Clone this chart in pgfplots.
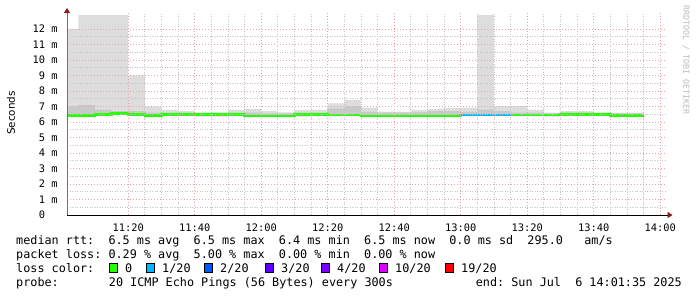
\documentclass[border=0pt]{standalone}
\usepackage{fontspec}
\setmainfont{DejaVu Sans}
\newfontfamily\monof{DejaVu Sans Mono}
\usepackage{pgfplots}
\pgfplotsset{compat=1.18}
\usepackage{pgfplotstable}
\usetikzlibrary{arrows.meta}

\definecolor{smokeA}{HTML}{DDDDDD}
\definecolor{smokeB}{HTML}{C9C9C9}
\definecolor{loss0}{HTML}{26FF00}
\definecolor{loss1}{HTML}{00B8FF}
\definecolor{loss2}{HTML}{0059FF}
\definecolor{loss3}{HTML}{5E00FF}
\definecolor{loss4}{HTML}{7E00FF}
\definecolor{loss10}{HTML}{DD00FF}
\definecolor{loss19}{HTML}{FF0000}
\definecolor{majgrid}{HTML}{EBA3A3}
\definecolor{mingrid}{HTML}{C4C4C4}
\definecolor{arrowred}{HTML}{8B1A1A}
\definecolor{yaxisgrey}{HTML}{707070}
\definecolor{credit}{HTML}{BBBBBB}

\newcommand\lf{\monof\fontsize{11.84}{14}\selectfont\frenchspacing}
\newcommand\tf{\monof\fontsize{10.4}{12}\selectfont\frenchspacing}

% minutes after 11:00 (step start), min, median, upper band, max  [ms]
\pgfplotstableread{
t    lo    med   q3    hi
1.6  6.35  6.42  7.00  12.00
5    6.35  6.42  7.10  12.90
10   6.42  6.50  6.80  12.90
15   6.45  6.56  6.70  12.90
20   6.40  6.50  6.70  9.00
25   6.35  6.42  6.60  7.00
30   6.40  6.48  6.60  6.77
35   6.40  6.48  6.60  6.70
40   6.34  6.50  6.58  6.62
45   6.34  6.50  6.58  6.62
50   6.42  6.50  6.60  6.77
55   6.35  6.40  6.60  6.84
60   6.35  6.40  6.55  6.70
65   6.35  6.40  6.55  6.62
70   6.34  6.48  6.60  6.77
75   6.40  6.48  6.60  6.77
80   6.40  6.45  6.88  7.20
85   6.40  6.45  7.00  7.42
90   6.35  6.40  6.65  6.92
95   6.35  6.40  6.60  6.67
100  6.35  6.40  6.60  6.67
105  6.35  6.40  6.62  6.77
110  6.35  6.40  6.70  6.84
115  6.35  6.40  6.70  6.90
120  6.40  6.45  6.65  6.92
125  6.40  6.45  6.80  12.90
130  6.40  6.45  6.70  7.03
135  6.40  6.45  6.60  7.03
140  6.40  6.45  6.60  6.77
145  6.34  6.45  6.55  6.60
150  6.42  6.50  6.62  6.70
155  6.42  6.50  6.62  6.70
160  6.42  6.50  6.58  6.62
165  6.38  6.43  6.55  6.60
170  6.38  6.43  6.55  6.60
175  6.38  6.43  6.55  6.60
}\smoke

\begin{document}
\begin{tikzpicture}[x=1bp,y=1bp]
\fill[white] (0,0) rectangle (697,297);
\begin{axis}[
  at={(67bp,82bp)}, anchor=south west,
  scale only axis, width=598.5bp, height=201.5bp,
  xmin=1.6, xmax=181.6, ymin=0, ymax=13,
  axis on top,
  axis x line=bottom, axis y line=left,
  x axis line style={black, line width=0.9bp, -{Triangle[length=5bp,width=6bp,color=arrowred]}, shorten >=-7bp},
  y axis line style={yaxisgrey, line width=0.9bp, -{Triangle[length=5bp,width=6bp,color=arrowred]}, shorten >=-5.5bp},
  xtick={20,40,...,180},
  xticklabels={11:20,11:40,12:00,12:20,12:40,13:00,13:20,13:40,14:00},
  minor x tick num=3,
  ytick={0,1,...,12},
  yticklabels={0\hphantom{\ m},1 m,2 m,3 m,4 m,5 m,6 m,7 m,8 m,9 m,10 m,11 m,12 m},
  minor y tick num=1,
  grid=both,
  major grid style={majgrid, line width=0.8bp, dash pattern=on 1.3bp off 1.7bp},
  minor grid style={mingrid, line width=0.8bp, dash pattern=on 1bp off 1.5bp},
  tick style={draw=none},
  xticklabel style={font=\tf, anchor=north, inner sep=0pt, yshift=-6bp},
  yticklabel style={font=\tf, anchor=east, inner sep=0pt, xshift=-7bp},
]
\addplot[const plot, draw=none, fill=smokeA] table[x=t,y=hi]{\smoke} \closedcycle;
\addplot[const plot, draw=none, fill=smokeB] table[x=t,y=q3]{\smoke} \closedcycle;
\addplot[const plot, draw=none, fill=smokeA] table[x=t,y=med]{\smoke} \closedcycle;
\addplot[const plot, draw=none, fill=white] table[x=t,y=lo]{\smoke} \closedcycle;
\addplot[const plot, draw=loss0, line width=2.6bp] table[x=t,y=med]{\smoke};
\addplot[const plot, draw=loss1, line width=2.6bp] coordinates {(120,6.45) (125,6.45) (130,6.45) (135,6.45)};
\end{axis}

% axis title and credit
\node[rotate=90, font=\fontsize{10.4}{12}\selectfont, inner sep=0pt] at (11bp,184bp) {Seconds};
\node[rotate=-90, anchor=west, inner sep=0pt, font=\monof\fontsize{8.3}{10}\selectfont, text=credit] at (686bp,292bp) {RRDTOOL / TOBI OETIKER};

% legend lines
\node[anchor=base west, inner sep=0pt, font=\lf] at (16bp,53bp)
  {median rtt:\ \ 6.5 ms avg\ \ 6.5 ms max\ \ 6.4 ms min\ \ 6.5 ms now\ \ 0.0 ms sd\ \ 295.0\ \ \ am/s};
\node[anchor=base west, inner sep=0pt, font=\lf] at (16bp,39bp)
  {packet loss:\ 0.29 \% avg\ \ 5.00 \% max\ \ 0.00 \% min\ \ 0.00 \% now};
\node[anchor=base west, inner sep=0pt, font=\lf] at (16bp,25bp) {loss color:};
\foreach \xb/\col/\txt in {109/loss0/{0}, 146/loss1/{1/20}, 204/loss2/{2/20}, 265/loss3/{3/20}, 321/loss4/{4/20}, 379/loss10/{10/20}, 445/loss19/{19/20}}{
  \draw[black, line width=1bp, fill=\col] (\xb bp+0.5bp,24.5bp) rectangle (\xb bp+8.5bp,33.5bp);
  \node[anchor=base west, inner sep=0pt, font=\lf] at (\xb bp+16bp,25bp) {\txt};
}
\node[anchor=base west, inner sep=0pt, font=\lf] at (16bp,11bp) {probe:};
\node[anchor=base west, inner sep=0pt, font=\lf] at (108.7bp,11bp) {20 ICMP Echo Pings (56 Bytes) every 300s};
\node[anchor=base east, inner sep=0pt, font=\lf] at (682bp,11bp) {end: Sun Jul\ \ 6 14:01:35 2025};
\end{tikzpicture}
\end{document}
